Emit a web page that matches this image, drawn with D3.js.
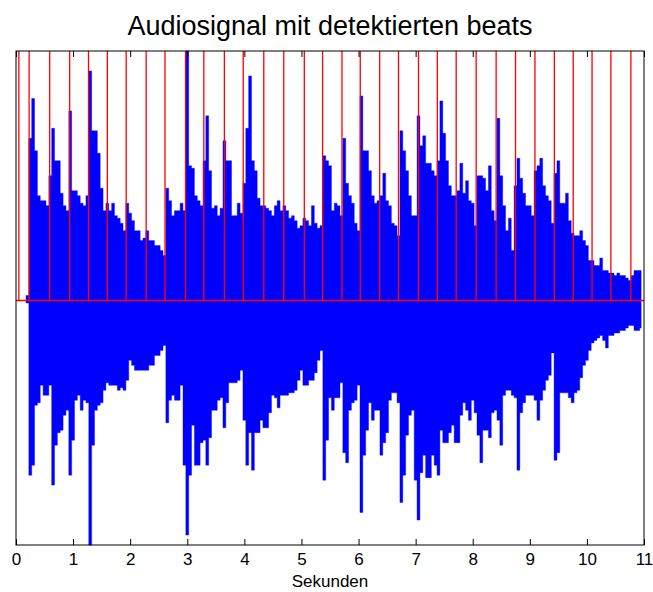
<!DOCTYPE html>
<html>
<head>
<meta charset="utf-8">
<script src="https://cdn.jsdelivr.net/npm/d3@7"></script>
<style>
  body { margin: 0; background: #fff; }
  text { font-family: "Liberation Sans", Arial, sans-serif; }
</style>
</head>
<body>
<div id="chart"></div>
<script>
// sampled envelope of the audio signal, one value every 0.05 s starting at 0 s
const sampleStep = 0.05;
const upperEnv = [
  0, 0, 0, 0, 0.02, 0.65, 0.81, 0.60, 0.42, 0.40,
  0.40, 0.38, 0.50, 0.69, 0.56, 0.56, 0.43, 0.38, 0.36, 0.76,
  0.44, 0.44, 0.42, 0.39, 0.38, 0.42, 0.92, 0.68, 0.68, 0.59,
  0.45, 0.36, 0.39, 0.36, 0.39, 0.34, 0.33, 0.31, 0.28, 0.39,
  0.35, 0.32, 0.28, 0.28, 0.24, 0.25, 0.28, 0.24, 0.24, 0.22,
  0.22, 0.20, 0.18, 0.45, 0.40, 0.34, 0.36, 0.36, 0.39, 0.36,
  1.00, 0.54, 0.53, 0.42, 0.40, 0.38, 0.56, 0.74, 0.52, 0.37,
  0.38, 0.34, 0.37, 0.64, 0.56, 0.56, 0.34, 0.34, 0.39, 0.35,
  0.47, 0.69, 0.90, 0.56, 0.52, 0.41, 0.38, 0.38, 0.37, 0.36,
  0.34, 0.38, 0.40, 0.36, 0.38, 0.36, 0.33, 0.34, 0.32, 0.29,
  0.30, 0.33, 0.32, 0.30, 0.38, 0.31, 0.29, 0.30, 0.58, 0.56,
  0.54, 0.36, 0.39, 0.38, 0.34, 0.65, 0.47, 0.42, 0.39, 0.31,
  0.28, 0.82, 0.60, 0.60, 0.52, 0.42, 0.39, 0.40, 0.42, 0.51,
  0.40, 0.38, 0.31, 0.30, 0.26, 0.68, 0.60, 0.52, 0.42, 0.34,
  0.34, 0.74, 0.62, 0.66, 0.55, 0.55, 0.52, 0.50, 0.56, 0.80,
  0.67, 0.56, 0.46, 0.42, 0.42, 0.44, 0.55, 0.43, 0.48, 0.40,
  0.39, 0.30, 0.50, 0.50, 0.49, 0.44, 0.54, 0.36, 0.32, 0.73,
  0.50, 0.38, 0.28, 0.33, 0.20, 0.46, 0.57, 0.49, 0.43, 0.38,
  0.38, 0.34, 0.52, 0.54, 0.57, 0.46, 0.42, 0.40, 0.31, 0.51,
  0.56, 0.39, 0.39, 0.43, 0.32, 0.27, 0.26, 0.26, 0.28, 0.24,
  0.22, 0.16, 0.16, 0.14, 0.14, 0.17, 0.12, 0.12, 0.11, 0.11,
  0.10, 0.11, 0.10, 0.10, 0.09, 0.08, 0.10, 0.12, 0.12, 0.12
];
const lowerEnv = [
  0, 0, 0, 0, -0.01, -0.70, -0.66, -0.42, -0.41, -0.34,
  -0.38, -0.38, -0.34, -0.74, -0.58, -0.53, -0.52, -0.46, -0.44, -0.70,
  -0.56, -0.40, -0.38, -0.44, -0.40, -0.41, -0.98, -0.58, -0.44, -0.42,
  -0.41, -0.36, -0.33, -0.34, -0.34, -0.34, -0.36, -0.35, -0.36, -0.32,
  -0.24, -0.26, -0.28, -0.28, -0.28, -0.28, -0.28, -0.26, -0.26, -0.22,
  -0.22, -0.20, -0.18, -0.49, -0.40, -0.38, -0.40, -0.40, -0.34, -0.66,
  -0.94, -0.70, -0.50, -0.66, -0.66, -0.57, -0.56, -0.66, -0.55, -0.44,
  -0.44, -0.40, -0.39, -0.51, -0.41, -0.33, -0.33, -0.33, -0.32, -0.28,
  -0.48, -0.66, -0.53, -0.68, -0.53, -0.53, -0.48, -0.51, -0.51, -0.45,
  -0.38, -0.39, -0.43, -0.38, -0.38, -0.38, -0.37, -0.37, -0.36, -0.32,
  -0.28, -0.34, -0.34, -0.32, -0.32, -0.29, -0.24, -0.20, -0.72, -0.56,
  -0.39, -0.44, -0.39, -0.39, -0.33, -0.61, -0.65, -0.44, -0.41, -0.40,
  -0.34, -0.85, -0.62, -0.52, -0.41, -0.48, -0.44, -0.44, -0.62, -0.57,
  -0.53, -0.40, -0.37, -0.37, -0.41, -0.81, -0.70, -0.54, -0.46, -0.44,
  -0.72, -0.88, -0.69, -0.62, -0.71, -0.71, -0.62, -0.66, -0.70, -0.52,
  -0.57, -0.57, -0.53, -0.50, -0.57, -0.57, -0.46, -0.41, -0.44, -0.48,
  -0.40, -0.45, -0.54, -0.65, -0.52, -0.52, -0.55, -0.45, -0.44, -0.48,
  -0.58, -0.38, -0.36, -0.36, -0.38, -0.39, -0.68, -0.45, -0.41, -0.38,
  -0.38, -0.38, -0.40, -0.48, -0.40, -0.36, -0.32, -0.30, -0.21, -0.64,
  -0.61, -0.37, -0.37, -0.37, -0.39, -0.41, -0.37, -0.36, -0.31, -0.26,
  -0.24, -0.20, -0.17, -0.16, -0.15, -0.14, -0.16, -0.19, -0.14, -0.14,
  -0.13, -0.13, -0.12, -0.12, -0.11, -0.10, -0.10, -0.12, -0.12, -0.11
];
// detected beat times in seconds
const beats = [0.05, 0.23, 0.59, 0.94, 1.27, 1.60, 1.93, 2.28, 2.61, 2.97, 3.29,
  3.65, 3.98, 4.34, 4.69, 5.05, 5.37, 5.71, 6.03, 6.37, 6.70, 7.05, 7.38,
  7.71, 8.06, 8.41, 8.75, 9.09, 9.43, 9.76, 10.09, 10.42, 10.77];
const xTicks = [0, 1, 2, 3, 4, 5, 6, 7, 8, 9, 10, 11];

const width = 653, height = 592;
const margin = { top: 51, right: 9, bottom: 47, left: 16 };

const svg = d3.select("#chart").append("svg")
  .attr("width", width)
  .attr("height", height);

const x = d3.scaleLinear().domain([0, 11]).range([margin.left, width - margin.right]);
const y = d3.scaleLinear().domain([-0.98, 1]).range([height - margin.bottom, margin.top]);

const signal = upperEnv.map((v, i) => ({ t: i * sampleStep, hi: v, lo: lowerEnv[i] }));

// audio signal
svg.append("path")
  .datum(signal)
  .attr("fill", "#0000ff")
  .attr("stroke", "#0000ff")
  .attr("stroke-width", 0.4)
  .attr("d", d3.area()
    .x(d => x(d.t))
    .y0(d => y(d.lo))
    .y1(d => y(d.hi))
    .curve(d3.curveStep));

// beat pulses: zero line with a spike up to 1 at every beat
const pulse = [[0, 0]];
beats.forEach(b => { pulse.push([b, 0], [b, 1], [b, 0]); });
pulse.push([11, 0]);

svg.append("path")
  .datum(pulse)
  .attr("fill", "none")
  .attr("stroke", "#ff0000")
  .attr("stroke-width", 1.3)
  .attr("d", d3.line().x(d => x(d[0])).y(d => y(d[1])));

// frame
svg.append("rect")
  .attr("x", margin.left)
  .attr("y", margin.top)
  .attr("width", width - margin.left - margin.right)
  .attr("height", height - margin.top - margin.bottom)
  .attr("fill", "none")
  .attr("stroke", "#000")
  .attr("stroke-width", 1);

const xAxis = svg.append("g")
  .attr("transform", "translate(0," + (height - margin.bottom) + ")")
  .call(d3.axisBottom(x).tickValues(xTicks).tickSize(-6).tickSizeOuter(0).tickPadding(8));
xAxis.select(".domain").remove();
xAxis.selectAll("text").style("font-size", "17px").attr("fill", "#000");

const topAxis = svg.append("g")
  .attr("transform", "translate(0," + margin.top + ")")
  .call(d3.axisTop(x).tickValues(xTicks).tickSize(-6).tickSizeOuter(0).tickFormat(""));
topAxis.select(".domain").remove();

svg.append("text")
  .attr("x", (margin.left + width - margin.right) / 2)
  .attr("y", 35)
  .attr("text-anchor", "middle")
  .style("font-size", "27px")
  .text("Audiosignal mit detektierten beats");

svg.append("text")
  .attr("x", (margin.left + width - margin.right) / 2)
  .attr("y", 587)
  .attr("text-anchor", "middle")
  .style("font-size", "17px")
  .text("Sekunden");
</script>
</body>
</html>
